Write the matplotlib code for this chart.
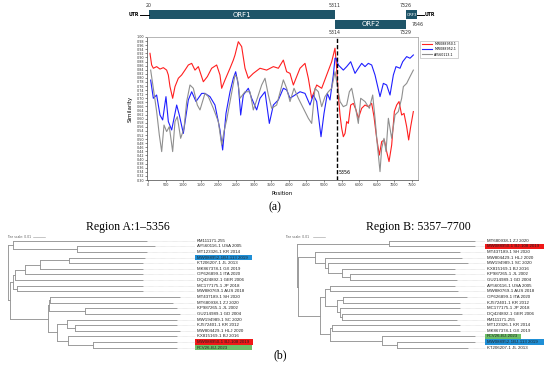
import matplotlib.pyplot as plt
from matplotlib.patches import Rectangle

# ---------------- data ----------------
breakpoint_pos = 5356
orf_names = ['ORF1', 'ORF2', 'ORF3']
orf_start = [20, 5314, 7326]
orf_end = [5311, 7329, 7646]
orf_row = [0, 1, 0]

series_names = ['MW088950.1', 'MW088952.1', 'AY560113.1']

red_pos = [57, 104, 152, 246, 341, 436, 530, 578, 625, 701, 767, 862, 956, 1051, 1146, 1241,
           1335, 1430, 1572, 1686, 1809, 1951, 2045, 2093, 2188, 2330, 2424, 2472, 2566, 2661,
           2756, 2850, 2992, 3182, 3371, 3561, 3703, 3845, 3939, 4034, 4129, 4223, 4318, 4460,
           4555, 4650, 4792, 4934, 5076, 5218, 5312, 5360, 5407, 5455, 5502, 5549, 5597, 5644,
           5691, 5758, 5833, 5909, 5975, 6070, 6165, 6259, 6354, 6420, 6496, 6572, 6638, 6714,
           6780, 6847, 6922, 6998, 7064, 7131, 7206, 7273, 7348, 7405, 7462, 7538]
red_sim = [0.920, 0.863, 0.847, 0.855, 0.843, 0.850, 0.838, 0.814, 0.757, 0.700, 0.757, 0.798,
           0.814, 0.838, 0.863, 0.871, 0.838, 0.855, 0.781, 0.806, 0.847, 0.863, 0.814, 0.749,
           0.790, 0.847, 0.887, 0.912, 0.977, 0.953, 0.847, 0.798, 0.822, 0.847, 0.838, 0.855,
           0.847, 0.887, 0.830, 0.822, 0.765, 0.806, 0.847, 0.871, 0.798, 0.700, 0.765, 0.749,
           0.814, 0.879, 0.945, 0.847, 0.716, 0.618, 0.553, 0.512, 0.528, 0.586, 0.577, 0.667,
           0.675, 0.643, 0.602, 0.651, 0.667, 0.659, 0.675, 0.610, 0.504, 0.422, 0.488, 0.496,
           0.439, 0.390, 0.471, 0.635, 0.667, 0.684, 0.618, 0.626, 0.561, 0.496, 0.561, 0.635]

blue_pos = [76, 152, 246, 341, 417, 511, 578, 673, 815, 890, 1004, 1146, 1241, 1364, 1525, 1619,
            1761, 1903, 2045, 2121, 2216, 2330, 2424, 2491, 2566, 2633, 2708, 2850, 2945, 3087,
            3182, 3324, 3447, 3561, 3703, 3845, 3939, 4034, 4176, 4318, 4460, 4602, 4697, 4792,
            4915, 5000, 5095, 5170, 5265, 5312, 5341, 5407, 5549, 5644, 5758, 5881, 5975, 6070,
            6165, 6259, 6354, 6449, 6591, 6686, 6780, 6875, 6970, 7045, 7159, 7235, 7348, 7443, 7538]
blue_sim = [0.789, 0.700, 0.716, 0.618, 0.594, 0.708, 0.586, 0.545, 0.667, 0.618, 0.528, 0.692,
            0.732, 0.684, 0.724, 0.724, 0.708, 0.667, 0.545, 0.447, 0.626, 0.732, 0.798, 0.830,
            0.765, 0.618, 0.716, 0.749, 0.700, 0.643, 0.700, 0.732, 0.577, 0.667, 0.692, 0.749,
            0.741, 0.700, 0.716, 0.732, 0.724, 0.667, 0.716, 0.684, 0.512, 0.626, 0.724, 0.692,
            0.814, 0.896, 0.896, 0.863, 0.838, 0.855, 0.879, 0.822, 0.847, 0.871, 0.855, 0.871,
            0.863, 0.814, 0.708, 0.773, 0.765, 0.716, 0.814, 0.855, 0.847, 0.879, 0.904, 0.896, 0.912]

gray_pos = [76, 152, 246, 322, 389, 455, 530, 606, 701, 767, 833, 928, 1023, 1099, 1193, 1288,
            1401, 1477, 1619, 1714, 1856, 1998, 2093, 2159, 2235, 2348, 2472, 2538, 2614, 2756,
            2898, 2992, 3106, 3229, 3324, 3419, 3513, 3655, 3845, 3939, 4034, 4148, 4271, 4413,
            4555, 4650, 4744, 4839, 4934, 5028, 5123, 5218, 5312, 5360, 5455, 5549, 5644, 5720,
            5786, 5881, 5975, 6042, 6165, 6288, 6383, 6449, 6515, 6591, 6638, 6704, 6761, 6828,
            6922, 7017, 7112, 7206, 7254, 7348, 7443, 7538]
gray_sim = [0.838, 0.749, 0.635, 0.520, 0.439, 0.569, 0.537, 0.561, 0.439, 0.586, 0.610, 0.504,
            0.553, 0.684, 0.765, 0.749, 0.667, 0.643, 0.724, 0.708, 0.651, 0.586, 0.471, 0.537,
            0.594, 0.700, 0.814, 0.798, 0.700, 0.732, 0.732, 0.643, 0.700, 0.765, 0.798, 0.716,
            0.651, 0.667, 0.790, 0.749, 0.684, 0.749, 0.700, 0.651, 0.602, 0.577, 0.749, 0.732,
            0.659, 0.708, 0.732, 0.749, 0.830, 0.781, 0.684, 0.659, 0.667, 0.732, 0.749, 0.667,
            0.577, 0.700, 0.684, 0.651, 0.716, 0.602, 0.471, 0.341, 0.455, 0.504, 0.439, 0.602,
            0.504, 0.618, 0.635, 0.700, 0.757, 0.773, 0.806, 0.838]

# trees (newick, branch lengths in substitutions/site)
tree_a = (
    "((KM111171-255:0.1119,(AY560116-1 USA 2005:0.065,MT123326-1 KR 2014:0.0583):0.0536):0.0039,"
    "((((((MW088952-1BJ-113 2019:0.0633,KT206207-1 JL 2013:0.0617):0.0242,MK867378-1 GX 2019:0.0858):0.0125,"
    "OP626899-1 ITA 2020:0.0983):0.0083,DQ424892-1 GER 2006:0.1067):0.0017,"
    "(MC177175-1 JP 2018:0.105,MW880769-1 AUS 2018:0.105):0.0033):0.0025,"
    "(((MT437189-1 SH 2020:0.1083,MT680938-1 ZJ 2020:0.1025):0.0008,"
    "(KP987265-1 JL 2002:0.0767,GU214989-1 GD 2004:0.0792):0.03):0.0008,"
    "((MW194989-1 SC 2020:0.0917,(KJ572401-1 KR 2012:0.085,MW804429-1 HLJ 2020:0.0875):0.0067):0.0083,"
    "(KX815169-1 BJ 2016:0.0908,(MW088950-1 BJ-108 2019:0.07,FCV26-BJ-2023:0.07):0.0208):0.0092):0.0075):0.0317"
    "):0.0017);"
)
tree_b = (
    "((MT680938-1 ZJ 2020:0.0717,MW088950-1 BJ-108 2019:0.0717):0.0769,"
    "((MT437189-1 SH 2020:0.1208,(MW804429-1 HLJ 2020:0.1142,(MW194989-1 SC 2020:0.1167,"
    "(KX815169-1 BJ 2016:0.0942,(KP987265-1 JL 2002:0.0875,GU214989-1 GD 2004:0.0892):0.0067):0.0117"
    "):0.0025):0.0083):0.0146,"
    "(((AY560116-1 USA 2005:0.1042,MW880769-1 AUS 2018:0.1067):0.0042,"
    "((OP626899-1 ITA 2020:0.1031,KJ572401-1 KR 2012:0.0975):0.005,"
    "(MC177175-1 JP 2018:0.1,(DQ424892-1 GER 2006:0.1,KM111171-255:0.0958):0.0017):0.0025):0.01):0.0042,"
    "((MT123326-1 KR 2014:0.1067,MK867378-1 GX 2019:0.1067):0.0017,"
    "(FCV26-BJ-2023:0.0775,(MW088952-1BJ-113 2019:0.065,KT206207-1 JL 2013:0.0592):0.0125):0.0433):0.0083"
    "):0.0188):0.0007);"
)
hl_colors = {'MW088952-1BJ-113 2019': '#1f8fd6',
             'MW088950-1 BJ-108 2019': '#f01818',
             'FCV26-BJ-2023': '#6dbf67'}

# ---------------- helpers ----------------
W, H = 550, 372
fig = plt.figure(figsize=(5.5, 3.72), dpi=100)


def px_axes(x0, y0, x1, y1):
    return fig.add_axes([x0 / W, 1 - y1 / H, (x1 - x0) / W, (y1 - y0) / H])


def parse_newick(s):
    pos = 0

    def node():
        nonlocal pos
        kids = []
        if s[pos] == '(':
            pos += 1
            kids.append(node())
            while s[pos] == ',':
                pos += 1
                kids.append(node())
            pos += 1
        start = pos
        while s[pos] not in ',();':
            pos += 1
        name, _, length = s[start:pos].rpartition(':')
        if not _:
            name, length = length, '0'
        return {'name': name, 'len': float(length or 0), 'children': kids}
    return node()


def layout(n, x0, leaves):
    n['x'] = x0 + n['len']
    if n['children']:
        for c in n['children']:
            layout(c, n['x'], leaves)
        n['y'] = (n['children'][0]['y'] + n['children'][-1]['y']) / 2
    else:
        n['y'] = len(leaves)
        leaves.append(n)


def draw_tree(ax, n, px0, col='#8c8c8c'):
    ax.plot([px0, n['x']], [n['y'], n['y']], color=col, lw=0.6, solid_capstyle='butt')
    if n['children']:
        ax.plot([n['x'], n['x']], [n['children'][0]['y'], n['children'][-1]['y']],
                color=col, lw=0.6)
        for c in n['children']:
            draw_tree(ax, c, n['x'])


# ---------------- genome map ----------------
XL = (-28, 7670)
teal = '#1e5468'
g = px_axes(147, 0, 418, 37)
g.set_xlim(XL)
g.set_ylim(37, 0)
g.axis('off')
for name, s, e, row in zip(orf_names, orf_start, orf_end, orf_row):
    y0 = 10 if row == 0 else 19.5
    g.add_patch(Rectangle((s, y0), e - s, 9.3, fc=teal, ec='none', clip_on=False))
    g.text((s + e) / 2, y0 + 4.8, name, color='white', ha='center', va='center',
           fontsize=5 if e - s > 1000 else 2.8)
num_kw = dict(fontsize=3.4, color='#333333', ha='center', va='center')
g.text(orf_start[0], 5.5, str(orf_start[0]), **num_kw)
g.text(orf_end[0], 5.5, str(orf_end[0]), **num_kw)
g.text(orf_start[1], 33, str(orf_start[1]), **num_kw)
g.text(orf_end[1], 33, str(orf_end[1]), **num_kw)
g.text(orf_start[2], 5.5, str(orf_start[2]), **num_kw)
g.text(orf_end[2], 24, str(orf_end[2]), **num_kw)
g.plot([-227, orf_start[0]], [14.7, 14.7], color='k', lw=0.7, clip_on=False)
g.text(-245, 14.7, 'UTR', fontsize=3.4, weight='bold', ha='right', va='center')
g.plot([orf_end[2], 7830], [14.7, 14.7], color='k', lw=0.7, clip_on=False)
g.text(7850, 14.7, 'UTR', fontsize=3.4, weight='bold', ha='left', va='center')

# ---------------- similarity plot ----------------
ax = px_axes(147, 37, 418, 180)
ax.plot(red_pos, red_sim, color='#ff1f1f', lw=0.8, label=series_names[0])
ax.plot(blue_pos, blue_sim, color='#1f1fff', lw=0.8, label=series_names[1])
ax.plot(gray_pos, gray_sim, color='#8f8f8f', lw=0.8, label=series_names[2])
ax.axvline(breakpoint_pos, color='k', lw=1.0, ls=(0, (3, 1.5)))
ax.text(breakpoint_pos + 60, 0.335, str(breakpoint_pos), fontsize=3.4, va='center')
ax.set_xlim(XL)
ax.set_ylim(0.30, 1.00)
ax.set_xticks(range(0, 7501, 500))
yt = [round(0.30 + 0.02 * i, 2) for i in range(36)]
ax.set_yticks(yt)
ax.set_yticklabels(['%.2f' % v for v in yt])
ax.tick_params(labelsize=2.4, length=1.2, width=0.4, pad=1, colors='#333333')
for side in ['left', 'bottom']:
    ax.spines[side].set_color('#444444')
    ax.spines[side].set_linewidth(0.5)
for side in ['top', 'right']:
    ax.spines[side].set_color('#aaaaaa')
    ax.spines[side].set_linewidth(0.6)
ax.set_xlabel('Position', fontsize=4, labelpad=3)
ax.set_ylabel('Similarity', fontsize=4, labelpad=3)
leg = ax.legend(loc='upper left', bbox_to_anchor=(1.003, 0.985), fontsize=2.3,
                fancybox=False, edgecolor='#999999', handlelength=3.2,
                borderpad=0.5, labelspacing=0.35, handletextpad=0.6)
leg.get_frame().set_linewidth(0.4)

serif = ['Liberation Serif', 'DejaVu Serif']
fig.text(275 / W, 1 - 207 / H, '(a)', family=serif, fontsize=8.5, ha='center', va='center')
fig.text(128 / W, 1 - 227 / H, 'Region A:1\u20135356', family=serif, fontsize=8.5,
         ha='center', va='center')
fig.text(418 / W, 1 - 227 / H, 'Region B: 5357\u20137700', family=serif, fontsize=8.5,
         ha='center', va='center')
fig.text(280 / W, 1 - 355 / H, '(b)', family=serif, fontsize=8.5, ha='center', va='center')

# ---------------- trees ----------------
U = 1 / 1200  # substitutions per pixel
row0, row_h = 240.7, 5.63
for tree, (ax0, ax1), root_px, lab_px, hl_w, sc_text_px, sc_bar_px in [
        (tree_a, (0, 275), 8, 197, {'MW088952-1BJ-113 2019': 57, 'MW088950-1 BJ-108 2019': 58,
                                    'FCV26-BJ-2023': 57}, 7, 33),
        (tree_b, (275, 550), 296.7, 487, {'MW088952-1BJ-113 2019': 59, 'MW088950-1 BJ-108 2019': 59,
                                          'FCV26-BJ-2023': 36}, 285, 313)]:
    t = px_axes(ax0, 232, ax1, 352)
    t.set_xlim((ax0 - root_px) * U, (ax1 - root_px) * U)
    t.set_ylim((352 - row0) / row_h, (232 - row0) / row_h)
    t.axis('off')
    root = parse_newick(tree)
    leaves = []
    layout(root, 0.0, leaves)
    draw_tree(t, root, root['x'])
    lx = (lab_px - root_px) * U
    for lf in leaves:
        t.plot([lf['x'], lx - 2 * U], [lf['y'], lf['y']], color='#c8c8c8', lw=0.4,
               ls=(0, (1, 1)))
        if lf['name'] in hl_colors:
            t.add_patch(Rectangle((lx - 2 * U, lf['y'] - 0.5), hl_w[lf['name']] * U, 1.0,
                                  fc=hl_colors[lf['name']], ec='none'))
        t.text(lx, lf['y'], lf['name'], fontsize=3.2, family='Liberation Sans',
               va='center', ha='left', color='#222222')
    ys = (237 - row0) / row_h
    t.text((sc_text_px - root_px) * U, ys, 'Tree scale: 0.01', fontsize=2.2,
           va='center', color='#555555')
    t.plot([(sc_bar_px - root_px) * U, (sc_bar_px - root_px) * U + 0.01], [ys, ys],
           color='#999999', lw=0.4)

fig.savefig('out.png', dpi=100)
